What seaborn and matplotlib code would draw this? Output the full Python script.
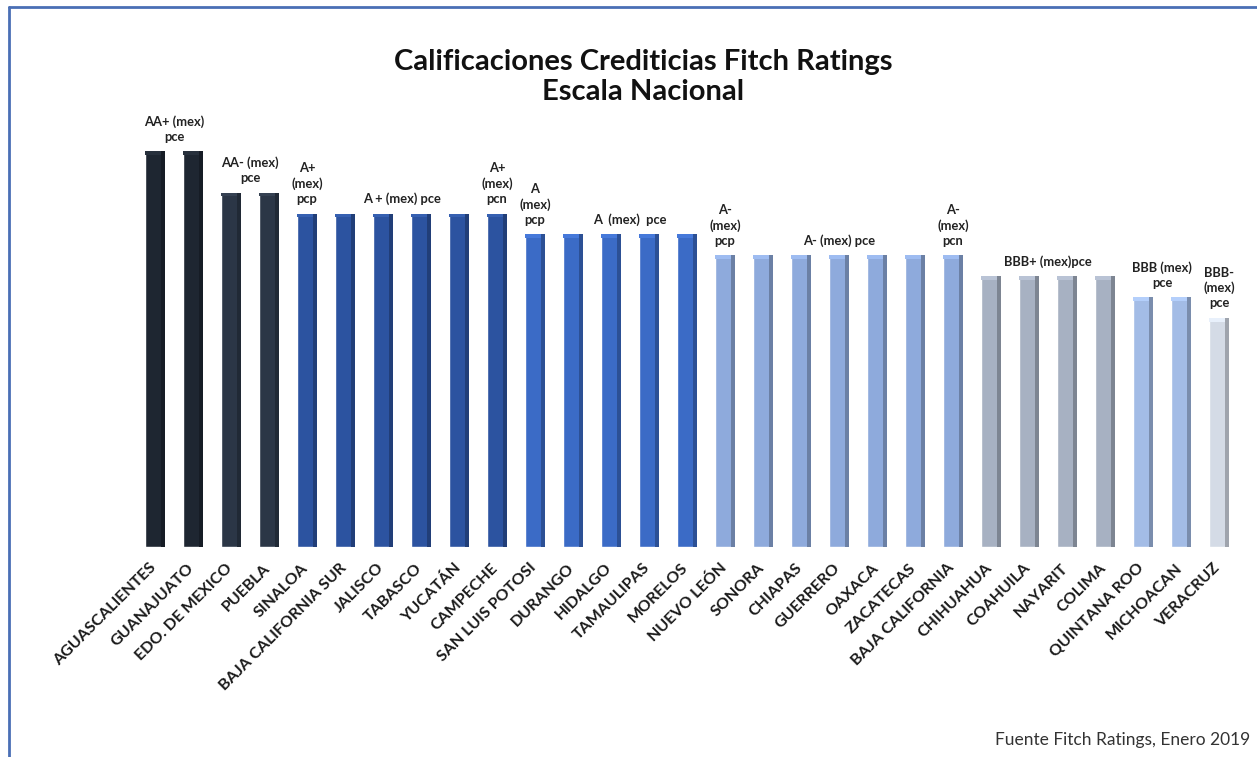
import matplotlib
matplotlib.use("Agg")
import matplotlib.pyplot as plt
import seaborn as sns
import pandas as pd
from matplotlib.patches import Rectangle
from matplotlib.lines import Line2D
import matplotlib.colors as mcolors
import matplotlib.transforms as mtransforms

states = ["AGUASCALIENTES", "GUANAJUATO", "EDO. DE MEXICO", "PUEBLA", "SINALOA",
          "BAJA CALIFORNIA SUR", "JALISCO", "TABASCO", "YUCATÁN", "CAMPECHE",
          "SAN LUIS POTOSI", "DURANGO", "HIDALGO", "TAMAULIPAS", "MORELOS",
          "NUEVO LEÓN", "SONORA", "CHIAPAS", "GUERRERO", "OAXACA", "ZACATECAS",
          "BAJA CALIFORNIA", "CHIHUAHUA", "COAHUILA", "NAYARIT", "COLIMA",
          "QUINTANA ROO", "MICHOACAN", "VERACRUZ"]
ratings = ["AA+", "AA+", "AA-", "AA-", "A+", "A+", "A+", "A+", "A+", "A+",
           "A", "A", "A", "A", "A", "A-", "A-", "A-", "A-", "A-", "A-", "A-",
           "BBB+", "BBB+", "BBB+", "BBB+", "BBB", "BBB", "BBB-"]
# numeric rating scale (notches)
scale_values = {"AA+": 19, "AA": 18, "AA-": 17, "A+": 16, "A": 15, "A-": 14,
                "BBB+": 13, "BBB": 12, "BBB-": 11}
scores = [scale_values[r] for r in ratings]

palette = {"AA+": "#1e2631", "AA-": "#2b3646", "A+": "#2c53a0", "A": "#3b6bc6",
           "A-": "#8eaadc", "BBB+": "#a7b1c2", "BBB": "#a3bce6", "BBB-": "#d4dbe6"}

# group annotations: (label text, group center position, rating)
group_labels = ["AA+ (mex)\npce", "AA- (mex)\npce", "A+\n(mex)\npcp", "A + (mex) pce",
                "A+\n(mex)\npcn", "A\n(mex)\npcp", "A  (mex)  pce", "A-\n(mex)\npcp",
                "A- (mex) pce", "A-\n(mex)\npcn", "BBB+ (mex)pce", "BBB (mex)\npce",
                "BBB-\n(mex)\npce"]
group_pos = [0.5, 2.5, 4, 6.5, 9, 10, 12.5, 15, 18, 21, 23.5, 26.5, 28]
group_rating = ["AA+", "AA-", "A+", "A+", "A+", "A", "A", "A-", "A-", "A-", "BBB+", "BBB", "BBB-"]

df = pd.DataFrame({"state": states, "score": scores, "rating": ratings})

sns.set_theme(style="white")
plt.rcParams["font.family"] = ["Lato", "DejaVu Sans"]

fig = plt.figure(figsize=(12.57, 7.57), dpi=100)
fig.patch.set_facecolor("white")
ax = fig.add_axes([0.1082, 0.2774, 0.8767, 0.6057])

sns.barplot(data=df, x="state", y="score", hue="rating", palette=palette,
            dodge=False, width=0.52, legend=False, ax=ax, saturation=1)

# faux 3D side shading derived from the drawn bars
for p in list(ax.patches):
    x0, w, h = p.get_x(), p.get_width(), p.get_height()
    if h <= 0:
        continue
    c = mcolors.to_rgb(p.get_facecolor())
    dark = tuple(v * 0.75 for v in c)
    light = tuple(min(1, v * 1.06 + 0.03) for v in c)
    ax.add_patch(Rectangle((x0 + w * 0.80, 0), w * 0.20, h, facecolor=dark,
                           edgecolor="none", zorder=p.get_zorder() + 0.1))
    ax.add_patch(Rectangle((x0, h - 0.18), w * 0.80, 0.18, facecolor=light,
                           edgecolor="none", zorder=p.get_zorder() + 0.1))

ax.set_xlim(-0.5, len(states) - 0.5)
ax.set_ylim(0, 22)
ax.set_yticks([])
ax.set_xlabel("")
ax.set_ylabel("")
for s in ax.spines.values():
    s.set_visible(False)
ax.tick_params(axis="x", length=0, pad=10)
ax.set_xticks(range(len(states)))
ax.set_xticklabels(states, rotation=45, ha="right", rotation_mode="anchor",
                   fontsize=11.5, fontweight="bold", color="#1a1a1a")
shift = mtransforms.ScaledTranslation(-6 / 100, 0, fig.dpi_scale_trans)
for lbl in ax.get_xticklabels():
    lbl.set_transform(lbl.get_transform() + shift)

for txt, pos, r in zip(group_labels, group_pos, group_rating):
    ax.annotate(txt, xy=(pos, scale_values[r]), xytext=(0, 6), textcoords="offset points",
                ha="center", va="bottom", fontsize=9.3, fontweight="bold",
                color="#222222", linespacing=1.3)

fig.text(0.5115, 0.898, "Calificaciones Crediticias Fitch Ratings\nEscala Nacional",
         ha="center", va="center", fontsize=21, fontweight="bold", color="#111111",
         linespacing=1.2)
fig.text(0.9944, 0.0225, "Fuente Fitch Ratings, Enero 2019", ha="right", va="center",
         fontsize=12.5, color="#333333")

# frame lines (top and left)
fig.add_artist(Line2D([0.0072, 0.0072], [0, 1 - 7 / 757], transform=fig.transFigure,
                      color="#4a6fb5", lw=2))
fig.add_artist(Line2D([0.0072, 1], [1 - 7 / 757, 1 - 7 / 757], transform=fig.transFigure,
                      color="#4a6fb5", lw=2))

fig.savefig("out.png", dpi=100, facecolor="white")
